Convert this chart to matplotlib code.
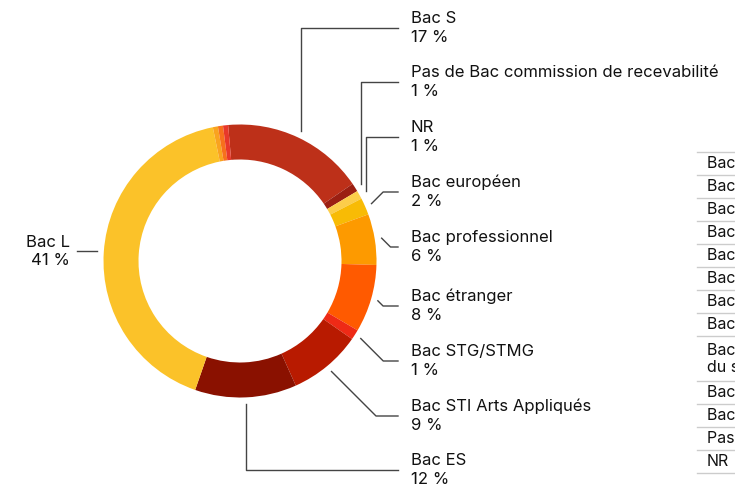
import numpy as np
import matplotlib.pyplot as plt

plt.rcParams['font.family'] = ['Inter', 'DejaVu Sans']

# données (ordre du camembert, sens horaire)
labels = ['Bac S', 'Pas de Bac commission de recevabilité', 'NR', 'Bac européen',
          'Bac professionnel', 'Bac étranger', 'Bac STG/STMG', 'Bac STI Arts Appliqués',
          'Bac ES', 'Bac L', 'Bac STL', 'Bac STI2D', 'Bac ST2S']
values = [16.8, 1.0, 1.0, 2.0, 6.0, 8.0, 1.2, 8.6, 12.0, 41.4, 0.6, 0.6, 0.6]
pct_text = ['17 %', '1 %', '1 %', '2 %', '6 %', '8 %', '1 %', '9 %', '12 %', '41 %', '', '', '']
colors = ['#bd3019', '#9b1f12', '#fccd4a', '#f8bb05', '#fd9a00', '#ff5a00', '#ee2a16',
          '#b81a00', '#8a1100', '#fbc229', '#f9a31f', '#f7701d', '#e8382a']

# tableau de droite (coupé par le bord, comme sur l'original)
table_rows = ['Bac L', 'Bac S', 'Bac ES', 'Bac STI Arts Appliqués', 'Bac étranger',
              'Bac professionnel', 'Bac européen', 'Bac STG/STMG',
              'Bac ST2S sciences et technologies de la santé et\ndu social',
              'Bac STL', 'Bac STI2D', 'Pas de Bac commission de recevabilité', 'NR']

fig = plt.figure(figsize=(7.35, 4.91), dpi=100)
ax = fig.add_axes([0, 0, 1, 1])

cx, cy, R = 240, 261, 136.5
wedges, _ = ax.pie(values, colors=colors, startangle=-95, counterclock=True,
                   center=(cx, cy), radius=R,
                   wedgeprops=dict(width=35, linewidth=0))
ax.set_xlim(0, 735)
ax.set_ylim(491, 0)
ax.set_aspect('equal')
ax.axis('off')

# position des étiquettes (y du centre du bloc) et type de tracé
label_y = {0: 28, 1: 82, 2: 137, 3: 192, 4: 247, 5: 306, 6: 361, 7: 416, 8: 470}
route = {0: 'v', 1: 'v', 2: 'v', 3: 'd', 4: 'd', 5: 'd', 6: 'd', 7: 'd', 8: 'v'}
line_col = '#444444'
fs = 12

for i, w in enumerate(wedges[:10]):
    mid = np.deg2rad((w.theta1 + w.theta2) / 2)
    px = cx + (R + 7) * np.cos(mid)
    py = cy + (R + 7) * np.sin(mid)
    text = labels[i] + '\n' + pct_text[i]
    if i == 9:
        ax.plot([px, 77], [py, py], color=line_col, lw=1)
        ax.text(70, py, text, ha='right', va='center', fontsize=fs,
                linespacing=1.3, color='#111111')
        continue
    ly = label_y[i]
    if route[i] == 'v':
        ex = px
    else:
        ex = px + abs(ly - py)
    ax.plot([px, ex, 398], [py, ly, ly], color=line_col, lw=1)
    ax.text(411, ly, text, ha='left', va='center', fontsize=fs,
            linespacing=1.3, color='#111111')

# tableau
y = 152
for row in table_rows:
    h = 45 if '\n' in row else 23
    ax.plot([697, 735], [y, y], color='#cccccc', lw=1)
    ax.text(707, y + h / 2, row, ha='left', va='center', fontsize=11.5,
            linespacing=1.2, color='#111111', clip_on=True)
    y += h
ax.plot([697, 735], [y, y], color='#cccccc', lw=1)

fig.savefig('out.png', dpi=100)
